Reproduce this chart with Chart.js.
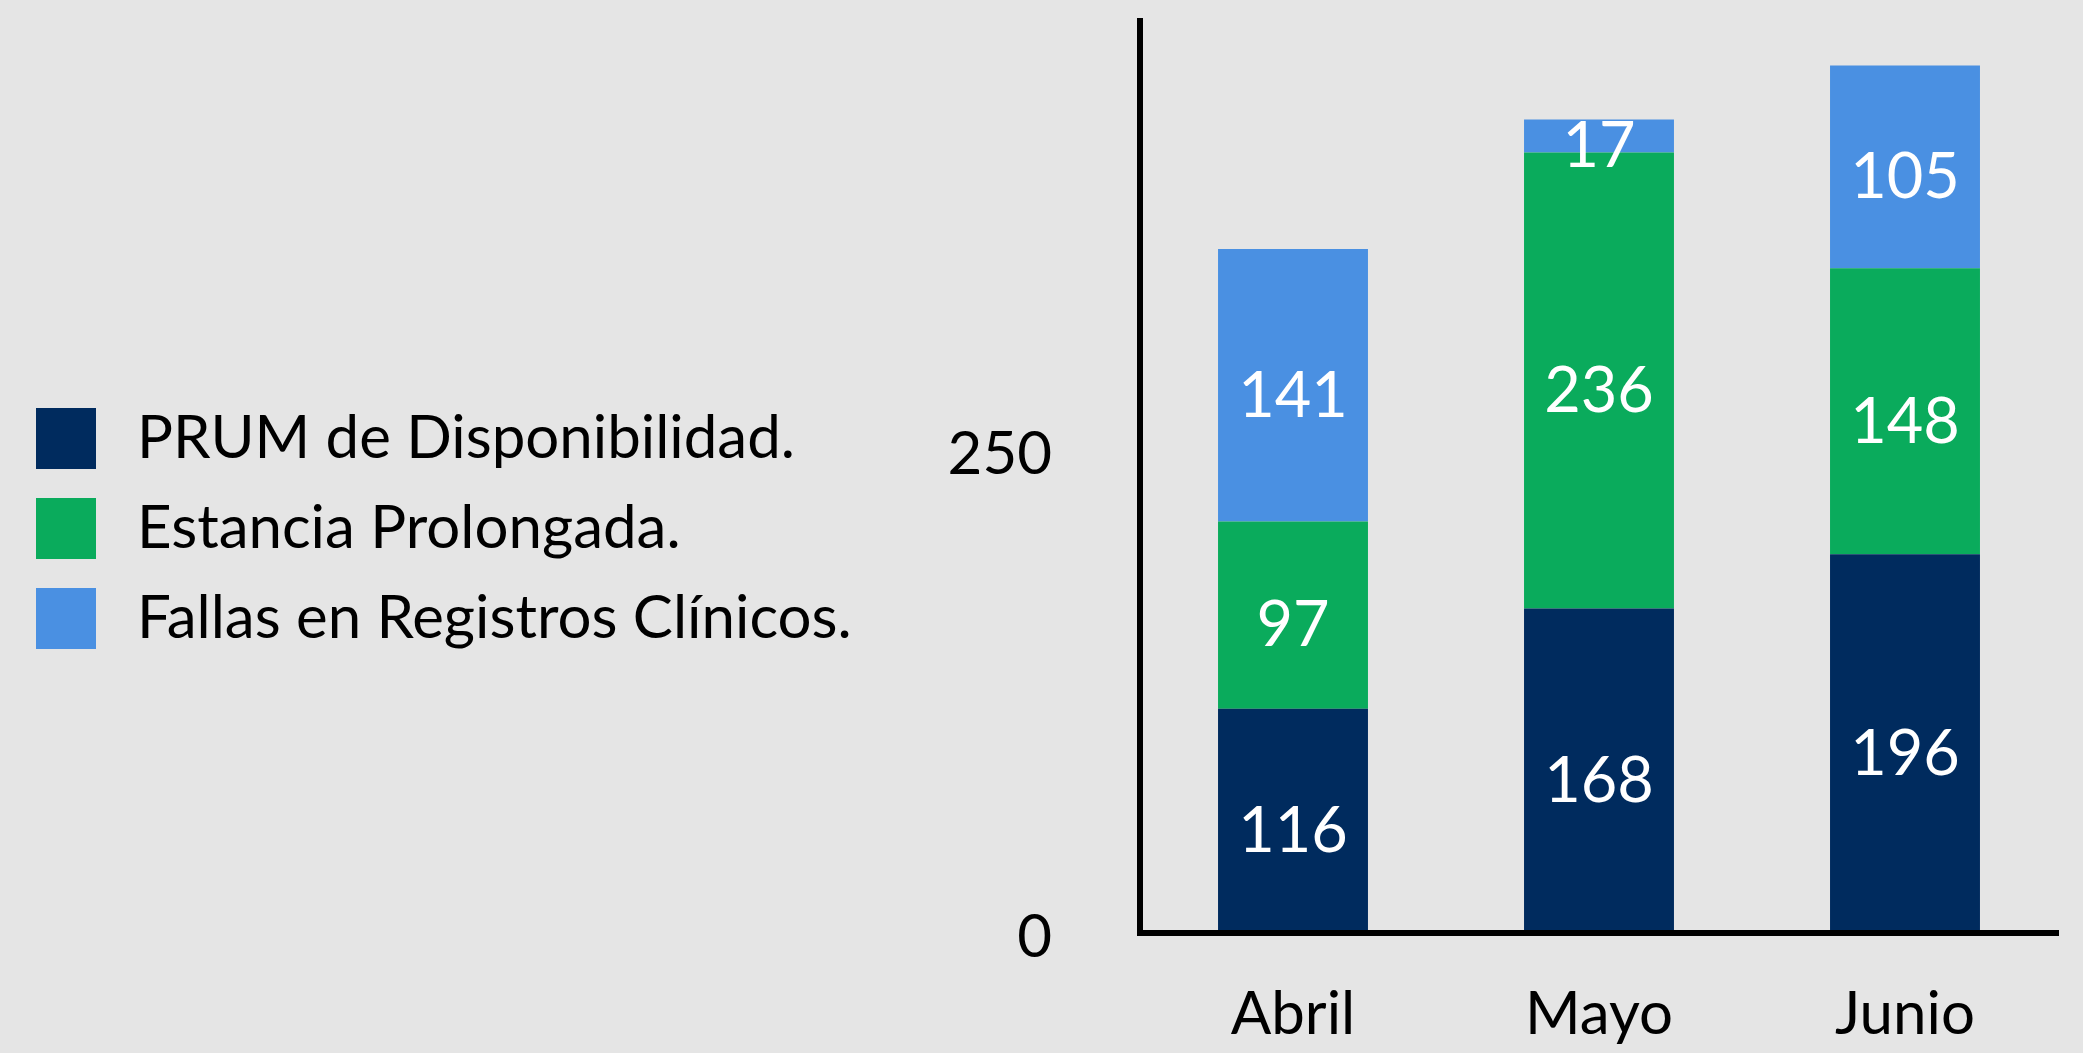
<!DOCTYPE html>
<html lang="es">
<head>
<meta charset="utf-8">
<title>PRUM por mes</title>
<script src="https://cdn.jsdelivr.net/npm/chart.js@4.4.1/dist/chart.umd.min.js"></script>
<style>
  html, body { margin: 0; padding: 0; background: #e5e5e5; overflow: hidden; }
  #wrap { position: relative; width: 2083px; height: 1053px; }
</style>
</head>
<body>
<div id="wrap"><canvas id="chart"></canvas></div>
<script>
// Datos
const months = ['Abril', 'Mayo', 'Junio'];
const prumDisponibilidad = [116, 168, 196];
const estanciaProlongada = [97, 236, 148];
const fallasRegistros = [141, 17, 105];
const seriesNames = ['PRUM de Disponibilidad.', 'Estancia Prolongada.', 'Fallas en Registros Clínicos.'];
const seriesColors = ['#002b5e', '#0aab5c', '#4a90e2'];
const yTicks = [0, 250];
const yMax = 472;

(function () {
  'use strict';

  const FONT = 'Lato';
  const AREA_LEFT = 1140;
  const PAD_LEFT = 6;

  // legend swatch: square on the left of a wider transparent image
  function swatch(color) {
    const c = document.createElement('canvas');
    c.width = 71; c.height = 61;
    const g = c.getContext('2d');
    g.fillStyle = color;
    g.fillRect(0, 0, 60, 61);
    return c;
  }
  const swatches = seriesColors.map(swatch);

  // white value labels centred in each segment
  const valueLabels = {
    id: 'valueLabels',
    afterDatasetsDraw(chart) {
      const ctx = chart.ctx;
      ctx.save();
      ctx.font = '63px ' + FONT;
      ctx.fillStyle = '#ffffff';
      ctx.textAlign = 'center';
      ctx.textBaseline = 'middle';
      chart.data.datasets.forEach((ds, i) => {
        chart.getDatasetMeta(i).data.forEach((bar, j) => {
          ctx.fillText(String(ds.data[j]), bar.x, (bar.y + bar.base) / 2 + 11);
        });
      });
      ctx.restore();
    }
  };

  const seriesData = [prumDisponibilidad, estanciaProlongada, fallasRegistros];
  const datasets = seriesData.map((d, i) => ({
    label: seriesNames[i],
    data: d,
    backgroundColor: seriesColors[i],
    borderWidth: 0,
    barPercentage: 0.49,
    categoryPercentage: 1.0,
  }));

  function build() {
    new Chart(document.getElementById('chart'), {
      type: 'bar',
      data: { labels: months, datasets },
      plugins: [valueLabels],
      options: {
        responsive: true,
        maintainAspectRatio: false,
        devicePixelRatio: 1,
        animation: false,
        layout: { padding: { left: PAD_LEFT, top: 4, right: 25, bottom: 0 } },
        plugins: {
          tooltip: { enabled: false },
          legend: {
            position: 'left',
            align: 'center',
            maxWidth: 900,
            labels: {
              color: '#000',
              font: { family: FONT, size: 60 },
              usePointStyle: true,
              pointStyleWidth: 71,
              padding: 30,
              generateLabels(chart) {
                const items = Chart.defaults.plugins.legend.labels.generateLabels(chart);
                items.forEach((it, i) => { it.pointStyle = swatches[i]; });
                return items;
              },
            },
          },
        },
        scales: {
          x: {
            stacked: true,
            grid: { display: false, drawTicks: false },
            border: { display: true, color: '#000', width: 6, z: 1 },
            ticks: { color: '#000', font: { family: FONT, size: 60 }, padding: 46 },
            afterFit: s => { s.height = 120; },
          },
          y: {
            stacked: true,
            min: 0,
            max: yMax,
            grid: { display: false, drawTicks: false },
            border: { display: true, color: '#000', width: 6 },
            ticks: { color: '#000', font: { family: FONT, size: 60 }, padding: 88, labelOffset: 5 },
            afterBuildTicks: s => { s.ticks = yTicks.map(v => ({ value: v })); },
            afterFit: s => {
              const lw = s.chart.legend ? s.chart.legend.width : 0;
              s.width = AREA_LEFT - PAD_LEFT - lw;
              s.paddingTop = 21;
              s.paddingBottom = 0;
            },
          },
        },
      },
    });
  }

  if (document.fonts && document.fonts.load) {
    Promise.all([document.fonts.load('60px Lato')]).then(build, build);
  } else {
    build();
  }
})();
</script>
</body>
</html>
